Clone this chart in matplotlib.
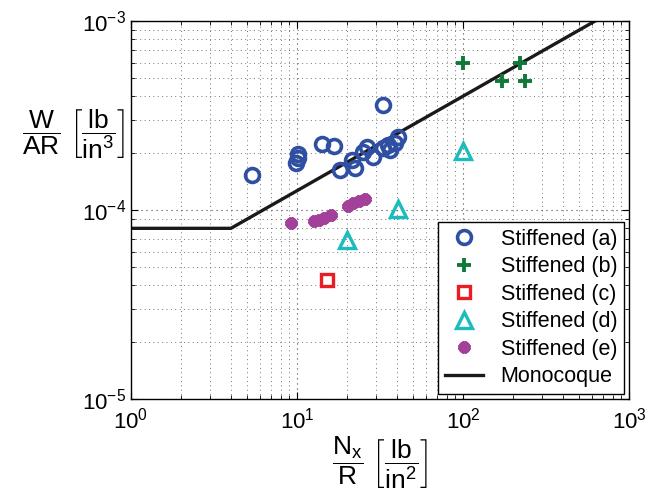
import matplotlib
matplotlib.use("Agg")
import matplotlib.pyplot as plt
import numpy as np

plt.rcParams['font.family'] = ['Liberation Sans', 'DejaVu Sans']
plt.rcParams['mathtext.fontset'] = 'custom'
plt.rcParams['mathtext.rm'] = 'Liberation Sans'
plt.rcParams['mathtext.it'] = 'Liberation Sans:italic'
plt.rcParams['mathtext.bf'] = 'Liberation Sans:bold'

# Stiffened (a)
a_x = [5.36, 9.86, 10.1, 10.1, 14.1, 16.7, 18.2, 21.4, 22.4, 25.0, 26.4, 28.7, 33.0, 33.0, 35.3, 36.3, 38.9, 40.6]
a_y = [1.53e-4, 1.77e-4, 1.88e-4, 1.98e-4, 2.23e-4, 2.18e-4, 1.63e-4, 1.84e-4, 1.67e-4, 2.03e-4, 2.15e-4, 1.90e-4,
       3.59e-4, 2.13e-4, 2.21e-4, 2.08e-4, 2.26e-4, 2.43e-4]
# Stiffened (b)
b_x = [100, 220, 172, 236]
b_y = [5.97e-4, 5.99e-4, 4.83e-4, 4.83e-4]
# Stiffened (c)
c_x = [15.1]
c_y = [4.27e-5]
# Stiffened (d)
d_x = [20.1, 40.4, 100]
d_y = [6.93e-5, 1.01e-4, 2.04e-4]
# Stiffened (e)
e_x = [9.2, 12.7, 13.6, 14.5, 16.0, 20.3, 21.7, 23.6, 25.7]
e_y = [8.53e-5, 8.75e-5, 8.85e-5, 9.08e-5, 9.42e-5, 1.05e-4, 1.09e-4, 1.12e-4, 1.14e-4]
# Monocoque
m_x = [1, 4, 1000]
m_y = [8.0e-5, 8.0e-5, 8.0e-5 * np.sqrt(1000 / 4)]

labels = ['Stiffened (a)', 'Stiffened (b)', 'Stiffened (c)', 'Stiffened (d)', 'Stiffened (e)', 'Monocoque']

fig = plt.figure(figsize=(6.48, 4.93), dpi=100)
ax = fig.add_axes([131/648, 1 - 399/493, 498/648, 378/493])

ax.plot(a_x, a_y, linestyle='none', marker='o', markersize=10, markerfacecolor='none',
        markeredgecolor='#2F4FA2', markeredgewidth=2.6, label=labels[0], zorder=3)
ax.plot(b_x, b_y, linestyle='none', marker='+', markersize=10, markeredgecolor='#10793A',
        markeredgewidth=2.8, label=labels[1], zorder=3)
ax.plot(c_x, c_y, linestyle='none', marker='s', markersize=8.5, markerfacecolor='none',
        markeredgecolor='#EC1C24', markeredgewidth=2.4, label=labels[2], zorder=3)
ax.plot(d_x, d_y, linestyle='none', marker='^', markersize=11, markerfacecolor='none',
        markeredgecolor='#1BBCBE', markeredgewidth=2.4, label=labels[3], zorder=3)
ax.plot(e_x, e_y, linestyle='none', marker=(12, 2, 0), markersize=8.5, markerfacecolor='#A2409A',
        markeredgecolor='#A2409A', markeredgewidth=3.0, label=labels[4], zorder=3)
ax.plot(m_x, m_y, color='#1a1a1a', linewidth=2.4, label=labels[5], zorder=2)

ax.set_xscale('log')
ax.set_yscale('log')
ax.set_xlim(1, 1000)
ax.set_ylim(1e-5, 1e-3)

ax.grid(True, which='major', linestyle=(0, (1, 3.5)), color='#444444', linewidth=0.8)
ax.grid(True, which='minor', linestyle=(0, (1, 3.5)), color='#777777', linewidth=0.7)
ax.tick_params(which='both', direction='in', top=True, right=True, labelsize=16)
ax.tick_params(which='major', length=5)
ax.tick_params(which='minor', length=3)
for s in ax.spines.values():
    s.set_linewidth(1.0)
ax.tick_params(axis='x', pad=6)

ax.set_ylabel(r'$\dfrac{\mathrm{W}}{\mathrm{AR}}\ \left[\dfrac{\mathrm{lb}}{\mathrm{in}^{3}}\right]$',
              rotation=0, fontsize=19, va='center', ha='center')
ax.yaxis.set_label_coords(-0.115, 0.70)
ax.set_xlabel(r'$\dfrac{\mathrm{N}_{\mathrm{x}}}{\mathrm{R}}\ \left[\dfrac{\mathrm{lb}}{\mathrm{in}^{2}}\right]$',
              fontsize=19, labelpad=1)

leg = ax.legend(loc='lower right', fontsize=15.5, frameon=True, fancybox=False, framealpha=1,
                edgecolor='black', borderaxespad=0.25, handlelength=1.8, labelspacing=0.3,
                borderpad=0.3, handletextpad=0.8)
leg.get_frame().set_linewidth(1.0)

fig.savefig('out.png', dpi=100)
